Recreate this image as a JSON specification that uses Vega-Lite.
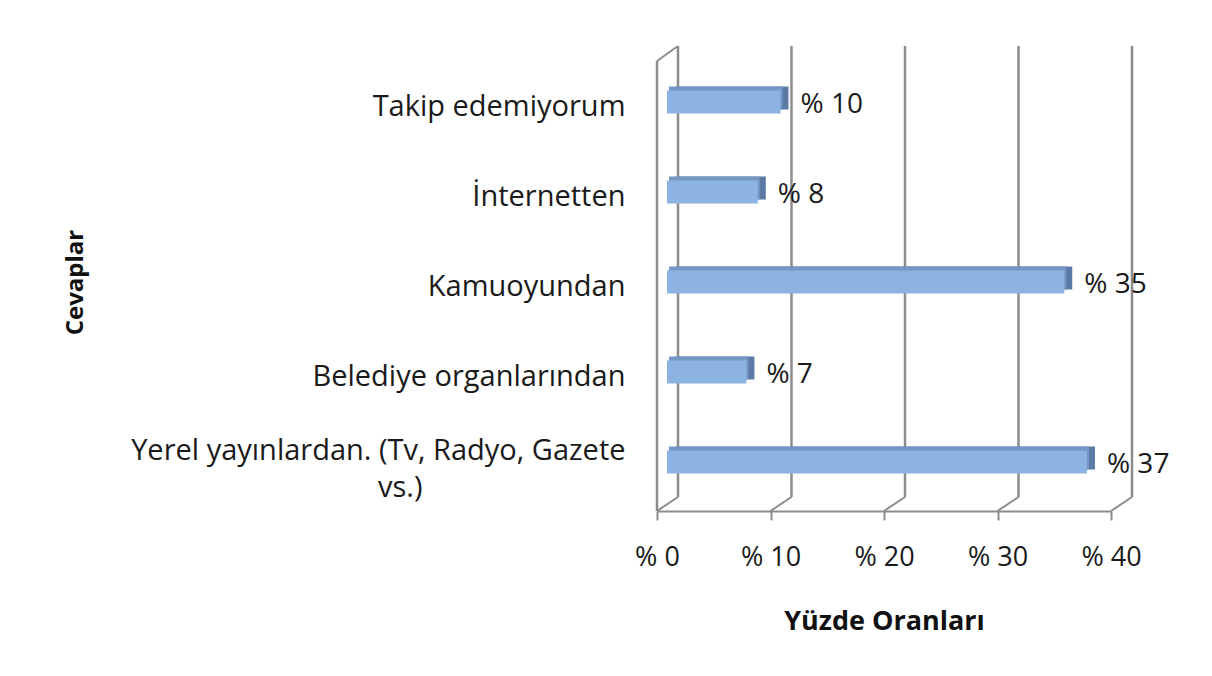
{
  "$schema": "https://vega.github.io/schema/vega-lite/v6.json",
  "width": 454,
  "height": 450,
  "autosize": {"type": "none"},
  "padding": {"left": 657, "top": 57, "right": 101, "bottom": 169},
  "background": "white",
  "config": {"view": {"stroke": null}, "font": "Open Sans"},
  "datasets": {
    "answers": [
      {"cevap": "Takip edemiyorum", "yuzde": 10, "etiket": "% 10"},
      {"cevap": "İnternetten", "yuzde": 8, "etiket": "% 8"},
      {"cevap": "Kamuoyundan", "yuzde": 35, "etiket": "% 35"},
      {"cevap": "Belediye organlarından", "yuzde": 7, "etiket": "% 7"},
      {"cevap": "Yerel yayınlardan. (Tv, Radyo, Gazete vs.)", "yuzde": 37, "etiket": "% 37"}
    ],
    "ticks": [{"t": 0}, {"t": 10}, {"t": 20}, {"t": 30}, {"t": 40}]
  },
  "resolve": {"scale": {"y": "independent"}},
  "layer": [
    {
      "data": {"name": "ticks"},
      "mark": {"type": "rule", "color": "#8c8c8c", "strokeWidth": 2.5, "xOffset": 21, "yOffset": -10, "y2Offset": -11},
      "encoding": {
        "x": {
          "field": "t",
          "type": "quantitative",
          "scale": {"domain": [0, 40], "nice": false, "zero": true},
          "axis": {
            "values": [0, 10, 20, 30, 40],
            "labelExpr": "'% ' + datum.value",
            "offset": 4,
            "grid": false,
            "domainColor": "#8c8c8c",
            "domainWidth": 2,
            "tickColor": "#8c8c8c",
            "tickWidth": 2,
            "tickSize": 9,
            "labelFontSize": 27,
            "labelColor": "#1a1a1a",
            "labelPadding": 24,
            "labelFlush": false,
            "labelOverlap": false,
            "title": "Yüzde Oranları",
            "titleFontSize": 27,
            "titleFontWeight": "bold",
            "titleColor": "#111111",
            "titlePadding": 38
          }
        },
        "y": {"datum": 0, "type": "quantitative", "scale": {"domain": [0, 1]}, "axis": null},
        "y2": {"datum": 1}
      }
    },
    {
      "data": {"name": "ticks"},
      "mark": {"type": "rule", "color": "#8c8c8c", "strokeWidth": 2, "yOffset": 4, "y2Offset": -10, "x2Offset": 21},
      "encoding": {
        "x": {"field": "t", "type": "quantitative"},
        "x2": {"field": "t"},
        "y": {"datum": 0, "type": "quantitative", "scale": {"domain": [0, 1]}, "axis": null},
        "y2": {"datum": 0}
      }
    },
    {
      "data": {"values": [{}]},
      "mark": {"type": "rule", "color": "#8c8c8c", "strokeWidth": 2.5, "yOffset": 4, "y2Offset": 4},
      "encoding": {
        "x": {"datum": 0, "type": "quantitative"},
        "y": {"datum": 0, "type": "quantitative", "scale": {"domain": [0, 1]}, "axis": null},
        "y2": {"datum": 1}
      }
    },
    {
      "data": {"values": [{}]},
      "mark": {"type": "rule", "color": "#8c8c8c", "strokeWidth": 2, "yOffset": 4, "y2Offset": -11, "x2Offset": 21},
      "encoding": {
        "x": {"datum": 0, "type": "quantitative"},
        "x2": {"datum": 0},
        "y": {"datum": 1, "type": "quantitative", "scale": {"domain": [0, 1]}, "axis": null},
        "y2": {"datum": 1}
      }
    },
    {
      "data": {"name": "answers"},
      "encoding": {
        "y": {
          "field": "cevap",
          "type": "nominal",
          "sort": null,
          "scale": {
            "domain": ["Takip edemiyorum", "İnternetten", "Kamuoyundan", "Belediye organlarından", "Yerel yayınlardan. (Tv, Radyo, Gazete vs.)"],
            "paddingInner": 0.745,
            "paddingOuter": 0.3725
          },
          "axis": {
            "title": "Cevaplar",
            "titleFontSize": 24,
            "titleFontWeight": "bold",
            "titleColor": "#111111",
            "titlePadding": 370,
            "domain": false,
            "ticks": false,
            "labelFontSize": 29,
            "labelColor": "#1a1a1a",
            "labelPadding": 32,
            "labelOffset": {"condition": {"test": "datum.value == 'Yerel yayınlardan. (Tv, Radyo, Gazete vs.)'", "value": -11}, "value": 5},
            "labelLimit": 700,
            "labelLineHeight": 37,
            "labelExpr": "datum.value == 'Yerel yayınlardan. (Tv, Radyo, Gazete vs.)' ? ['Yerel yayınlardan. (Tv, Radyo, Gazete', 'vs.)\u2003\u2003\u2003\u2003\u2003\u2003\u2003\u200b'] : datum.value"
          }
        }
      },
      "layer": [
        {
          "mark": {"type": "bar", "color": "#5b7aa6", "xOffset": 18, "x2Offset": 10, "yOffset": -4},
          "encoding": {
            "x": {"field": "yuzde", "type": "quantitative"}
          }
        },
        {
          "mark": {"type": "bar", "color": "#7597c6", "xOffset": 12, "x2Offset": 10, "yOffset": -4},
          "encoding": {
            "x": {"field": "yuzde", "type": "quantitative"}
          }
        },
        {
          "mark": {"type": "bar", "color": "#8db3e2", "xOffset": 10, "x2Offset": 6},
          "encoding": {
            "x": {"field": "yuzde", "type": "quantitative"}
          }
        },
        {
          "mark": {"type": "text", "align": "left", "baseline": "middle", "dx": 30, "dy": 3, "fontSize": 28, "color": "#1a1a1a"},
          "encoding": {
            "x": {"field": "yuzde", "type": "quantitative"},
            "text": {"field": "etiket"}
          }
        }
      ]
    }
  ]
}
